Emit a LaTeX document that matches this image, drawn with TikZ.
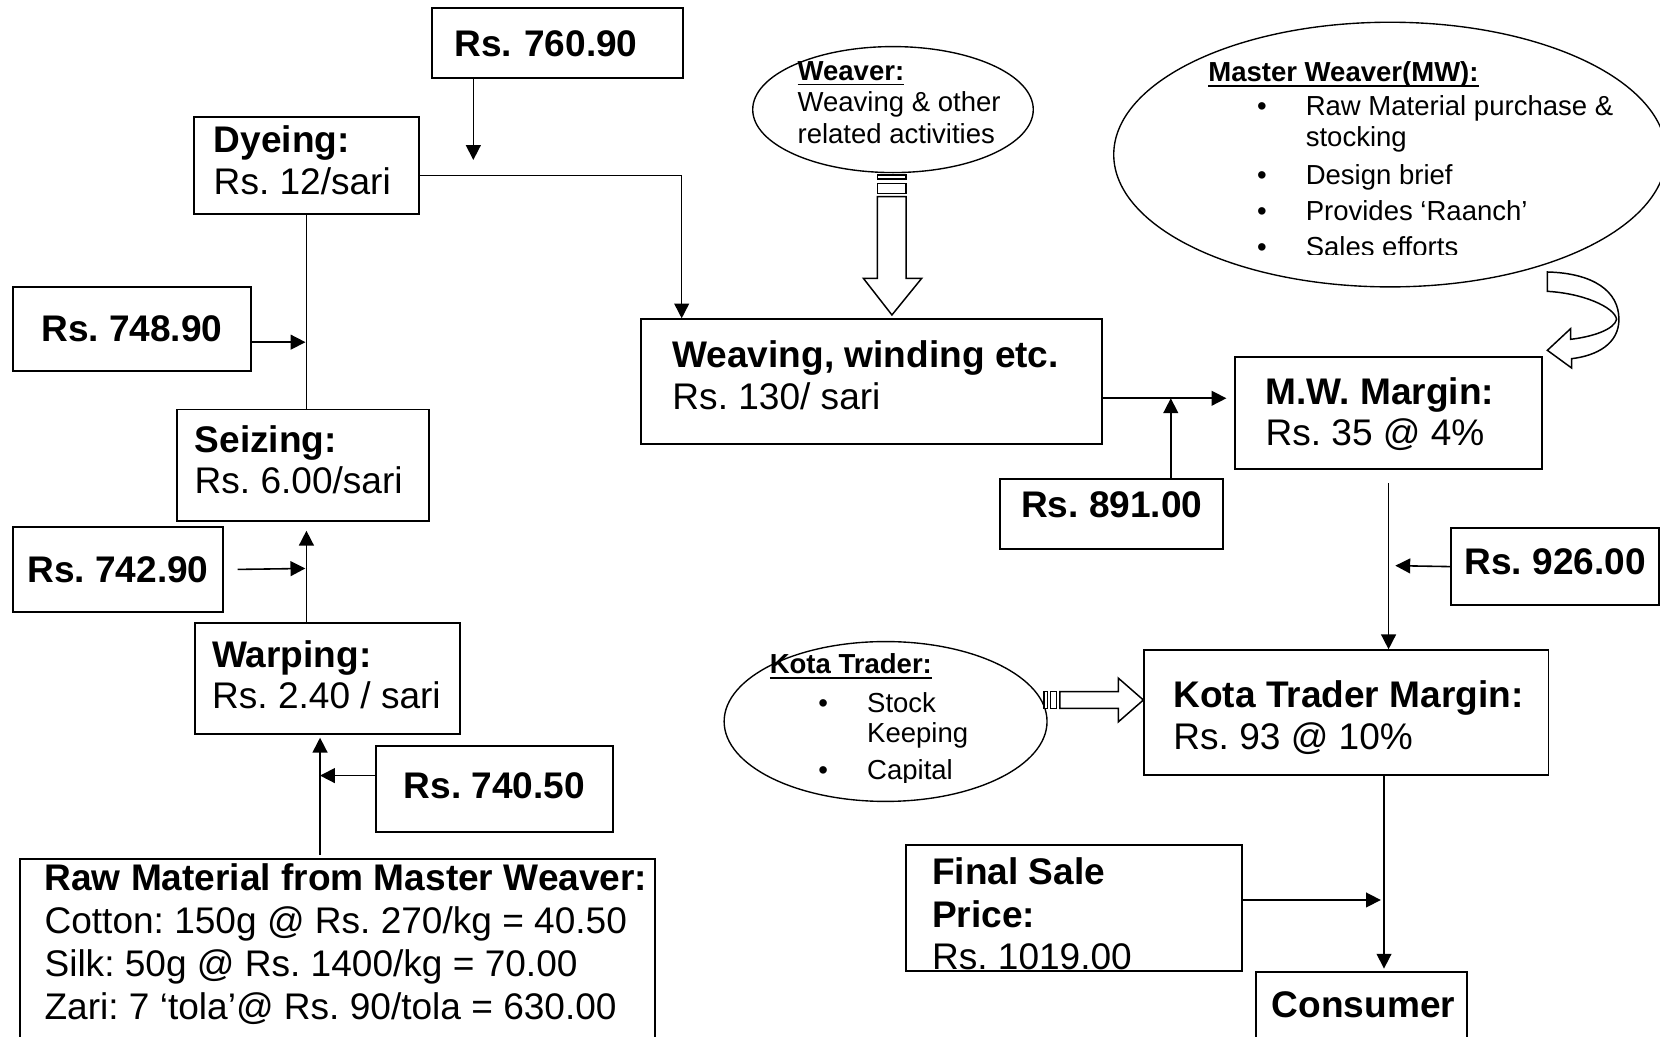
\documentclass[tikz,border=0pt]{standalone}
\usepackage{fontspec}
\setmainfont{Liberation Sans}
\usetikzlibrary{arrows.meta,shapes.geometric,positioning}

\newcommand{\stepfont}{\fontsize{17.5}{19.65}\selectfont}
\newcommand{\rawfont}{\fontsize{17.5}{20.3}\selectfont}
\newcommand{\pricefont}{\fontsize{17.5}{19.65}\selectfont\bfseries}
\newcommand{\ovalfont}{\fontsize{13}{15}\selectfont}
\newcommand{\hdr}[1]{\setbox0=\hbox{\bfseries #1}\rlap{\rule[-2.4pt]{\wd0}{0.8pt}}\box0}
\newcommand{\bulitem}{\hspace*{23pt}\makebox[23pt][l]{•}}
\newcommand{\bulind}{\hspace*{46pt}}

\tikzset{
  basic/.style    = {draw, rectangle, line width=0.9pt, inner sep=0pt, anchor=north west},
  stepbox/.style  = {basic},
  pricebox/.style = {basic, font=\pricefont},
  steptext/.style = {anchor=north west, inner sep=0pt, align=left, font=\stepfont},
  oval/.style     = {draw, ellipse, line width=0.65pt, fill=white, inner sep=0pt},
  ovaltext/.style = {anchor=north west, inner sep=0pt, align=left, font=\ovalfont},
  link/.style     = {->, line width=0.75pt},
  fatarrow/.style = {draw, line width=0.7pt, fill=white, line join=miter}
}

\begin{document}
\frenchspacing
\begin{tikzpicture}[x=0.5pt, y=-0.5pt, >={Triangle[length=7pt,width=7pt]}]
\useasboundingbox (0,0) rectangle (1568,979);
\clip (0,0) rectangle (1568,979);

% left column: the steps before weaving
\node[stepbox, minimum width=105.95pt, minimum height=46.1pt] (dye) at (182.6,109.3) {};
\node[stepbox, minimum width=119.05pt, minimum height=52.8pt] (seize) at (166.2,385.9) {};
\node[stepbox, minimum width=125pt, minimum height=52.5pt] (warp) at (183.2,587.4) {};
\node[stepbox, minimum width=300.1pt, minimum height=94.6pt] (raw) at (17.9,810.8) {};

\node[steptext] (dyetxt) at (201.5,118.3) {\textbf{Dyeing:}\\Rs. 12/sari};
\node[steptext] (seizetxt) at (183.5,401.5) {\textbf{Seizing:}\\Rs. 6.00/sari};
\node[steptext] (warptxt) at (200,604.4) {\textbf{Warping:}\\Rs. 2.40 / sari};
\node[steptext, font=\rawfont] (rawtxt) at (41.7,815) {\textbf{Raw Material from Master Weaver:}\\
  Cotton: 150g @ Rs. 270/kg = 40.50\\
  Silk: 50g @ Rs. 1400/kg = 70.00\\
  Zari: 7 ‘tola’@ Rs. 90/tola = 630.00};

% running prices
\node[pricebox, minimum width=118.7pt, minimum height=33.05pt, text width=97.6pt, align=left, inner xsep=10.55pt] (p760) at (407.1,6.9) {Rs. 760.90};
\node[pricebox, minimum width=112.4pt, minimum height=39.55pt] (p748) at (11.3,270.4) {Rs. 748.90};
\node[pricebox, minimum width=99.2pt, minimum height=39.85pt] (p742) at (11.3,497.1) {Rs. 742.90};
\node[pricebox, minimum width=112.2pt, minimum height=40.3pt, text depth=3pt] (p740) at (353.9,704) {Rs. 740.50};
\node[pricebox, minimum width=105.35pt, minimum height=33.35pt, text depth=9.3pt] (p891) at (943.9,451.2) {Rs. 891.00};
\node[pricebox, minimum width=98.35pt, minimum height=36.2pt, text depth=5pt] (p926) at (1369.8,498.1) {Rs. 926.00};

% right side: weaving and the margins
\node[stepbox, minimum width=217.45pt, minimum height=59pt] (weave) at (604.8,300.7) {};
\node[stepbox, minimum width=145.3pt, minimum height=52.7pt] (mwm) at (1165.4,336.3) {};
\node[stepbox, minimum width=191.25pt, minimum height=59.05pt] (ktm) at (1079.3,613.3) {};
\node[stepbox, minimum width=158.5pt, minimum height=59.5pt] (fsp) at (855.1,797.2) {};
\node[stepbox, minimum width=99.5pt, minimum height=45pt] (cons) at (1185.5,916.9) {};

\node[steptext] (weavetxt) at (634.8,321.3) {\textbf{Weaving, winding etc.}\\Rs. 130/ sari};
\node[steptext] (mwmtxt) at (1195,356) {\textbf{M.W. Margin:}\\Rs. 35 @ 4\%};
\node[steptext] (ktmtxt) at (1108,642.5) {\textbf{Kota Trader Margin:}\\Rs. 93 @ 10\%};
\begin{scope}
  \clip (850,790) rectangle (1180,916.2);
  \node[steptext] (fsptxt) at (880,809.4) {\textbf{Final Sale}\\[0.6pt]\textbf{Price:}\\[0.6pt]Rs. 1019.00};
\end{scope}
\node[steptext] (constxt) at (1201,936.6) {\textbf{Consumer}};

% weaver oval with its striped arrow
\foreach \a/\b in {165.3/169.1,173.2/182.6}
  \draw[fatarrow] (828.7,\a) rectangle (856,\b);
\draw[fatarrow] (828.7,185.8) -- (828.7,262.9) -- (815.5,262.9) -- (842.5,297.5)
  -- (870.6,262.9) -- (856,262.9) -- (856,185.8) -- cycle;
\node[oval, minimum width=132.5pt, minimum height=59.5pt] (weaver) at (843.5,103.5) {};
\node[ovaltext] (weavertxt) at (753,57.4) {\hdr{Weaver:}\\Weaving \& other\\related activities};

% master weaver oval
\node[oval, minimum width=261pt, minimum height=125pt] (mw) at (1313,146) {};
\begin{scope}
  \clip (1040,0) rectangle (1568,240.5);
  \node[ovaltext] (mwtxt) at (1141,58.2) {\hdr{Master Weaver(MW):}\\[0.7pt]
    \bulitem Raw Material purchase \&\\
    \bulind stocking\\[2.5pt]
    \bulitem Design brief\\[2pt]
    \bulitem Provides ‘Raanch’\\[2pt]
    \bulitem Sales efforts};
\end{scope}
\draw[fatarrow] (1461.6,256.9) .. controls (1505,258) and (1529.2,275) .. (1529.2,301.6)
  .. controls (1529.2,325) and (1508,336) .. (1484.5,338.8)
  -- (1484.5,347.6) -- (1461.6,330.9) -- (1483.6,310.4) -- (1483.6,320.5)
  .. controls (1505,318) and (1525,311) .. (1527,301.6)
  .. controls (1525,290) and (1495,277) .. (1461.6,275.2) -- cycle;

% kota trader oval
\node[oval, minimum width=152.5pt, minimum height=75.5pt] (kota) at (836.5,681.5) {};
\begin{scope}
  \clip (670,580) rectangle (1000,739.5);
  \node[ovaltext, font={\fontsize{13}{14.5}\selectfont}] (kotatxt) at (726.7,617.3) {\hdr{Kota Trader:}\\[3.5pt]
    \bulitem Stock\\
    \bulind Keeping\\[3pt]
    \bulitem Capital};
\end{scope}
\foreach \a/\b in {986/989.5,992.5/998}
  \draw[fatarrow] (\a,653.3) rectangle (\b,669);
\draw[fatarrow] (1001.2,653.3) -- (1056.3,653.3) -- (1056.3,640.5) -- (1080,661.2)
  -- (1056.3,681.9) -- (1056.3,669) -- (1001.2,669) -- cycle;

% connectors
\coordinate (d760) at (447.1,151.1);
\coordinate (j748) at (288.55,323.2);
\coordinate (j742) at (288.4,536.95);
\coordinate (j740) at (302.3,732.6);
\coordinate (j891) at (1105.9,376.2);
\coordinate (j926) at (1318,534.3);
\coordinate (jfsp) at (1307.3,850.1);

\draw[link] (p760.south -| d760) -- (d760);
\draw[link] ([yshift=-4.65pt]dye.east) -| ([xshift=19.55pt]weave.north west);
\draw[line width=0.75pt] (dye.south) -- (dye.south |- seize.north);
\draw[link] (p748.east |- j748) -- (j748);
\draw[link] ([xshift=6.45pt]p742.east) -- (j742);
\draw[link, shorten >=4pt] (warp.north -| dye.south) -- (seize.south -| dye.south);
\draw[link] (p740.west |- j740) -- (j740);
\draw[link, shorten <=1.5pt, shorten >=1.3pt] (raw.north -| j740) -- (warp.south -| j740);

\draw[link, shorten >=3.5pt] (weave.east |- j891) -- (mwm.west |- j891);
\draw[link] (p891.north -| j891) -- (j891);
\draw[link, shorten <=6.5pt] (mwm.south) -- (mwm.south |- ktm.north);
\draw[link] (p926.west) -- (j926);
\draw[link, shorten >=1pt] (ktm.south -| jfsp) -- (cons.north -| jfsp);
\draw[link, shorten >=1.5pt] (fsp.east |- jfsp) -- (jfsp);
\end{tikzpicture}
\end{document}
